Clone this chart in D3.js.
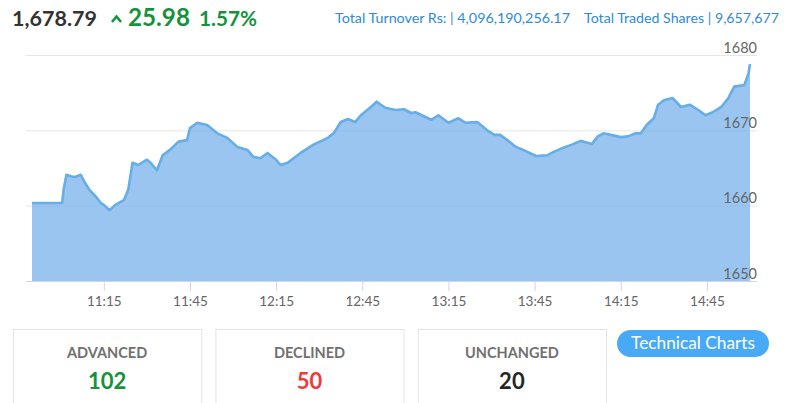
<!DOCTYPE html>
<html><head><meta charset="utf-8">
<script src="https://cdn.jsdelivr.net/npm/d3@7"></script>
<style>
body{margin:0;background:#fff;}
svg{font-family:Lato,'Open Sans',sans-serif;display:block}
</style>
</head><body>
<svg id="c" width="800" height="403"></svg>
<script>
// ---------------- DATA ----------------
const times = ["10:50:00","11:00:30","11:01:00","11:02:00","11:03:30","11:05:00","11:07:00","11:08:30","11:10:00","11:12:00",
"11:14:00","11:15:00","11:17:00","11:19:00","11:22:00","11:23:30","11:25:00","11:27:00","11:30:00","11:31:00",
"11:33:30","11:35:30","11:38:00","11:41:00","11:44:00","11:45:00","11:47:30","11:51:00","11:54:30","11:58:00",
"12:01:30","12:05:00","12:07:00","12:09:30","12:12:00","12:15:00","12:16:30","12:19:00","12:23:30","12:28:00",
"12:33:00","12:35:00","12:37:30","12:40:00","12:42:30","12:44:30","12:48:00","12:50:00","12:53:00","12:56:30",
"12:59:30","13:02:00","13:03:30","13:09:00","13:11:30","13:15:00","13:18:30","13:21:00","13:25:00","13:28:30",
"13:31:00","13:33:00","13:35:30","13:38:30","13:41:00","13:45:30","13:49:30","13:51:30","13:55:00","13:58:00",
"14:01:00","14:05:00","14:07:00","14:09:00","14:11:30","14:15:00","14:17:30","14:20:00","14:22:00","14:24:00",
"14:26:30","14:28:00","14:30:00","14:33:00","14:36:00","14:39:00","14:42:00","14:44:30","14:47:00","14:50:00",
"14:52:30","14:54:30","14:58:00","14:59:30","15:00:00"];
const values = [1660.35,1660.35,1662.1,1664.1,1663.9,1663.8,1664.1,1663.0,1662.1,1661.3,
1660.35,1660.1,1659.4,1660.1,1660.75,1662.1,1665.7,1665.4,1666.1,1665.8,
1664.7,1666.7,1667.4,1668.5,1668.7,1670.3,1671.0,1670.7,1669.6,1669.0,
1667.8,1667.4,1666.5,1666.3,1667.0,1666.1,1665.4,1665.7,1667.0,1668.1,
1669.0,1669.6,1671.1,1671.5,1671.1,1672.0,1673.1,1673.8,1673.0,1672.7,
1672.8,1672.3,1672.4,1671.4,1672.0,1671.0,1671.6,1671.0,1671.1,1670.0,
1669.4,1669.4,1668.7,1667.8,1667.4,1666.6,1666.7,1667.1,1667.7,1668.1,
1668.6,1668.2,1669.2,1669.6,1669.4,1669.1,1669.2,1669.6,1669.6,1670.7,
1671.6,1673.4,1674.0,1674.3,1673.1,1673.4,1672.7,1672.0,1672.4,1673.1,
1674.3,1675.8,1676.0,1677.6,1678.79];
const timeDomain = ["10:50:00","15:00:00"];
const yTicks = [1650,1660,1670,1680];
const xTickLabels = ["11:15","11:45","12:15","12:45","13:15","13:45","14:15","14:45"];

const indexValue = "1,678.79";
const changeValue = "25.98";
const changePct = "1.57%";
const turnoverLabel = "Total Turnover Rs: | 4,096,190,256.17";
const sharesLabel = "Total Traded Shares | 9,657,677";

const statLabels = ["ADVANCED","DECLINED","UNCHANGED"];
const statValues = [102,50,20];
const statColors = ["#14923c","#f03a3a","#262626"];
const buttonLabel = "Technical Charts";

// ---------------- DRAW ----------------
const svg = d3.select("#c");
const parseT = d3.timeParse("%H:%M:%S");
const parseHM = d3.timeParse("%H:%M");
const data = times.map((t,i)=>({t:parseT(t), v:values[i]}));

const x = d3.scaleTime().domain(timeDomain.map(parseT)).range([32,750]);
const y = d3.scaleLinear().domain([1650,1680]).range([281,55]);
const plotL = 26, plotR = 757;

function fit(sel, w){
  const n = sel.node(); let fs = parseFloat(sel.attr("font-size"));
  const len = n.getComputedTextLength();
  sel.attr("font-size", (fs*w/len).toFixed(2));
  return sel;
}

// gridlines
svg.append("g").selectAll("line").data(yTicks).join("line")
  .attr("x1",plotL).attr("x2",plotR)
  .attr("y1",d=>y(d)+0.5).attr("y2",d=>y(d)+0.5)
  .attr("stroke","#e6e6e6").attr("stroke-width",1);

// area
const area = d3.area().x(d=>x(d.t)).y0(y(1650)).y1(d=>y(d.v));
svg.append("path").datum(data).attr("d",area)
  .attr("fill","#7cb5ec").attr("fill-opacity",0.78);
const line = d3.line().x(d=>x(d.t)).y(d=>y(d.v));
svg.append("path").datum(data).attr("d",line)
  .attr("fill","none").attr("stroke","#67ade8").attr("stroke-width",2.6)
  .attr("stroke-linejoin","round");

// x axis
const xAxis = d3.axisBottom(x)
  .tickValues(xTickLabels.map(parseHM))
  .tickFormat(d3.timeFormat("%H:%M"))
  .tickSize(10).tickPadding(5);
const gx = svg.append("g").attr("transform",`translate(0,${y(1650)})`).call(xAxis);
gx.select(".domain").remove();
gx.append("line").attr("x1",plotL).attr("x2",plotR).attr("y1",0.5).attr("y2",0.5).attr("stroke","#ccd6eb");
gx.selectAll(".tick line").attr("stroke","#ccd6eb");
gx.selectAll(".tick text").attr("fill","#666").attr("font-size",13.5).attr("font-family","Lato, sans-serif");

// y axis labels (inside, right, above grid)
const yAxis = d3.axisRight(y).tickValues(yTicks).tickFormat(d3.format("d")).tickSize(0).tickPadding(0);
const gy = svg.append("g").attr("transform",`translate(${plotR},0)`).call(yAxis);
gy.select(".domain").remove();
gy.selectAll(".tick text").attr("text-anchor","end").attr("dy","-0.2em")
  .attr("fill","#666").attr("font-size",14.5).attr("font-family","Lato, sans-serif");

// header
const h1 = svg.append("text").attr("x",12).attr("y",26).attr("font-size",20).attr("font-weight",700)
  .attr("fill","#333").text(indexValue);
fit(h1,85);
svg.append("path").attr("d","M112,22 L116.5,16.5 L121,22").attr("fill","none")
  .attr("stroke","#14923c").attr("stroke-width",2.6).attr("stroke-linejoin","miter");
const h2 = svg.append("text").attr("x",128).attr("y",26).attr("font-size",20).attr("font-weight",700)
  .attr("fill","#14923c").text(changeValue);
fit(h2,62);
const h3 = svg.append("text").attr("x",199).attr("y",26).attr("font-size",20).attr("font-weight",700)
  .attr("fill","#14923c").text(changePct);
fit(h3,58);
const r1 = svg.append("text").attr("x",335).attr("y",23).attr("font-size",13)
  .attr("fill","#2f8ad8").text(turnoverLabel);
fit(r1,235);
const r2 = svg.append("text").attr("x",584).attr("y",23).attr("font-size",13)
  .attr("fill","#2f8ad8").text(sharesLabel);
fit(r2,195);

// stat boxes
const boxX = d3.scaleBand().domain(statLabels).range([13,606]).paddingInner(0.07).paddingOuter(0);
const boxes = svg.append("g").selectAll("g").data(statLabels).join("g")
  .attr("transform",d=>`translate(${boxX(d)},329)`);
boxes.append("rect").attr("x",0.5).attr("y",0.5).attr("width",boxX.bandwidth()).attr("height",90)
  .attr("fill","#fff").attr("stroke","#e3e3e3");
boxes.append("text").attr("x",boxX.bandwidth()/2).attr("y",29).attr("text-anchor","middle")
  .attr("font-size",14.5).attr("font-weight",700).attr("fill","#707070").text(d=>d);
boxes.append("text").attr("x",boxX.bandwidth()/2).attr("y",60).attr("text-anchor","middle")
  .attr("font-size",22).attr("font-weight",700).attr("fill",(d,i)=>statColors[i]).text((d,i)=>statValues[i]);

// button
svg.append("rect").attr("x",617).attr("y",330).attr("width",152).attr("height",27).attr("rx",13.5)
  .attr("fill","#48aaf6");
const bt = svg.append("text").attr("x",693).attr("y",349).attr("text-anchor","middle")
  .attr("font-size",15).attr("fill","#fff").text(buttonLabel);
fit(bt,124);
</script>
</body></html>
